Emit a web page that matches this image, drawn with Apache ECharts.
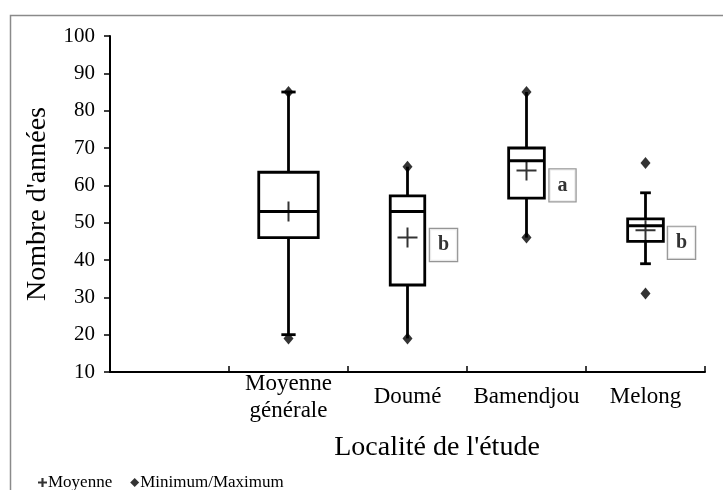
<!DOCTYPE html>
<html>
<head>
<meta charset="utf-8">
<script src="https://cdn.jsdelivr.net/npm/echarts@6/dist/echarts.min.js"></script>
<style>
html,body{margin:0;padding:0;background:#fff;}
#chart{width:723px;height:490px;}
</style>
</head>
<body>
<div id="chart"></div>
<script>
// ---- data ----
const localities = ['Moyenne\ngénérale', 'Doumé', 'Bamendjou', 'Melong'];
const categories = [''].concat(localities);
const yTicks = [10, 20, 30, 40, 50, 60, 70, 80, 90, 100];
const whiskerLow  = [20, 19, 46, 39];
const quartile1   = [46, 33.3, 56.6, 45];
const medians     = [53, 53, 66.6, 49.2];
const quartile3   = [63.5, 57.2, 70, 51];
const whiskerHigh = [85, 65, 85, 58];
const means       = [53, 46, 64, 48];
const minimums    = [19, 19, 46, 31];
const maximums    = [85, 65, 85, 66];
const letters     = ['', 'b', 'a', 'b'];
const letterY     = [null, 44, 60, 44.6];

// ---- styling (not data) ----
const boxRatio = [0, 0.5, 0.29, 0.3, 0.3];
const capRatio = [0, 0.12, 0, 0, 0.09];
const FONT = 'Liberation Serif, Times New Roman, serif';

const boxData = localities.map((n, i) => [i + 1, whiskerLow[i], quartile1[i], medians[i], quartile3[i], whiskerHigh[i]]);
const meanData = localities.map((n, i) => [i + 1, means[i]]);
const extremeData = [];
localities.forEach((n, i) => { extremeData.push([i + 1, minimums[i]]); extremeData.push([i + 1, maximums[i]]); });
const letterData = [];
localities.forEach((n, i) => { if (letters[i]) letterData.push({ value: [i + 1, letterY[i]], letter: letters[i] }); });

const plusPath = 'path://M9,0H11V9H20V11H11V20H9V11H0V9H9Z';
const plusIcon = 'path://M3.8,0H6.2V3.8H10V6.2H6.2V10H3.8V6.2H0V3.8H3.8Z';

const chart = echarts.init(document.getElementById('chart'), null, { renderer: 'canvas' });
chart.setOption({
  backgroundColor: '#fff',
  animation: false,
  graphic: [{
    type: 'rect', left: 8, top: 13, z: -10,
    shape: { x: 0, y: 0, width: 800, height: 600 },
    style: { fill: 'none', stroke: '#8a8a8a', lineWidth: 1.5 }
  }],
  grid: { left: 110, right: 18, top: 36, bottom: 118 },
  legend: {
    left: 33, top: 469, itemWidth: 9, itemHeight: 9, itemGap: 18, selectedMode: false,
    textStyle: { fontFamily: FONT, fontSize: 17, color: '#000', padding: [0, 0, 0, -4] },
    data: [
      { name: 'Moyenne', icon: plusIcon, itemStyle: { color: '#000' } },
      { name: 'Minimum/Maximum', icon: 'diamond', itemStyle: { color: '#000' } }
    ]
  },
  xAxis: {
    type: 'category', data: categories, boundaryGap: true,
    name: "Localité de l'étude", nameLocation: 'middle', nameGap: 62,
    nameTextStyle: { fontFamily: FONT, fontSize: 28, color: '#000', padding: [0, 0, 0, 59] },
    axisLine: { lineStyle: { color: '#000', width: 2 } },
    axisTick: { show: true, inside: true, length: 6, alignWithLabel: false, lineStyle: { color: '#000', width: 1.5 } },
    axisLabel: { fontFamily: FONT, fontSize: 23, lineHeight: 27, color: '#000', margin: 25, verticalAlign: 'middle', interval: 0 },
    splitLine: { show: false }
  },
  yAxis: {
    type: 'value', min: yTicks[0], max: yTicks[yTicks.length - 1], interval: 10,
    name: "Nombre d'années", nameLocation: 'middle', nameGap: 58,
    nameTextStyle: { fontFamily: FONT, fontSize: 28, color: '#000' },
    axisLine: { show: true, lineStyle: { color: '#000', width: 2 } },
    axisTick: { show: true, inside: false, length: 6, lineStyle: { color: '#000', width: 1.5 } },
    axisLabel: { fontFamily: FONT, fontSize: 21, color: '#000', margin: 15 },
    splitLine: { show: false }
  },
  series: [
    {
      type: 'custom', name: 'box', z: 2,
      encode: { x: 0, y: [1, 2, 3, 4, 5] },
      data: boxData,
      renderItem: function (params, api) {
        const idx = api.value(0);
        const lo = api.coord([idx, api.value(1)]);
        const q1 = api.coord([idx, api.value(2)]);
        const md = api.coord([idx, api.value(3)]);
        const q3 = api.coord([idx, api.value(4)]);
        const hi = api.coord([idx, api.value(5)]);
        const band = api.size([1, 0])[0];
        const w = band * boxRatio[idx];
        const cw = band * capRatio[idx];
        const x = md[0];
        const ls = { stroke: '#000', lineWidth: 2.8, fill: 'none' };
        const children = [
          { type: 'line', shape: { x1: x, y1: hi[1], x2: x, y2: q3[1] }, style: ls },
          { type: 'line', shape: { x1: x, y1: q1[1], x2: x, y2: lo[1] }, style: ls },
          { type: 'rect', shape: { x: x - w / 2, y: q3[1], width: w, height: q1[1] - q3[1] }, style: { stroke: '#000', lineWidth: 2.8, fill: '#fff' } },
          { type: 'line', shape: { x1: x - w / 2, y1: md[1], x2: x + w / 2, y2: md[1] }, style: { stroke: '#000', lineWidth: 3 } }
        ];
        if (cw > 0) {
          children.push({ type: 'line', shape: { x1: x - cw / 2, y1: hi[1], x2: x + cw / 2, y2: hi[1] }, style: ls });
          children.push({ type: 'line', shape: { x1: x - cw / 2, y1: lo[1], x2: x + cw / 2, y2: lo[1] }, style: ls });
        }
        return { type: 'group', children: children };
      }
    },
    {
      type: 'scatter', name: 'Moyenne', z: 5,
      symbol: plusPath, symbolSize: 20,
      itemStyle: { color: '#000' },
      data: meanData
    },
    {
      type: 'scatter', name: 'Minimum/Maximum', z: 5,
      symbol: 'diamond', symbolSize: [10, 12],
      itemStyle: { color: '#000' },
      data: extremeData
    },
    {
      type: 'scatter', name: 'letters', z: 6,
      symbol: 'rect', symbolSize: 1, itemStyle: { color: 'rgba(0,0,0,0)' },
      data: letterData,
      label: {
        show: true, position: 'inside', offset: [36, 0],
        formatter: function (p) { return p.data.letter; },
        fontFamily: FONT, fontSize: 20, fontWeight: 'bold', color: '#000',
        lineHeight: 20, padding: [6, 8, 6, 8],
        backgroundColor: '#fff', borderColor: '#7a7a7a', borderWidth: 1.2
      }
    }
  ]
});
</script>
</body>
</html>
